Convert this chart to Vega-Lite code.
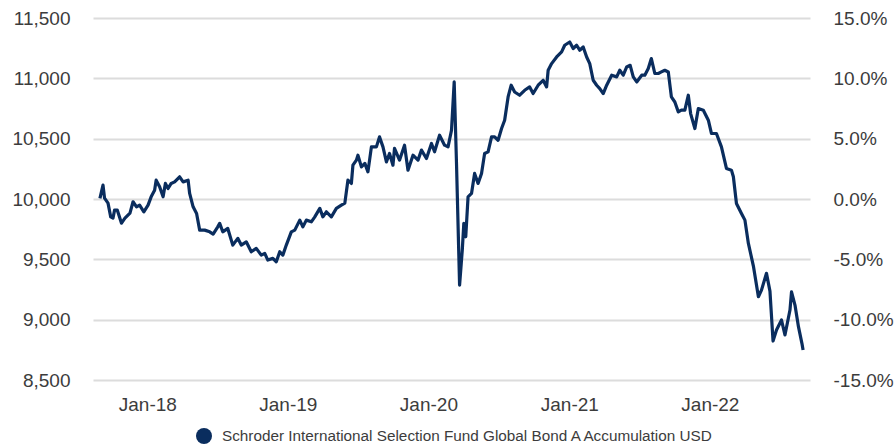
{
  "$schema": "https://vega.github.io/schema/vega-lite/v6.json",
  "width": 717,
  "height": 362,
  "autosize": {"type": "none"},
  "padding": {"left": 93, "top": 18, "right": 85, "bottom": 65},
  "background": "white",
  "config": {
    "view": {"stroke": null},
    "font": "Liberation Sans",
    "axis": {"labelFont": "Liberation Sans", "labelFontSize": 19, "labelColor": "#3c3c3c", "domain": false, "ticks": false, "tickSize": 0, "title": null}
  },
  "data": {"values": [
    {"date":"2017-08-31","value":10005},{"date":"2017-09-08","value":10115},{"date":"2017-09-12","value":10007},{"date":"2017-09-21","value":9966},{"date":"2017-09-28","value":9852},{"date":"2017-10-04","value":9842},{"date":"2017-10-08","value":9908},{"date":"2017-10-15","value":9908},{"date":"2017-10-26","value":9800},{"date":"2017-11-04","value":9842},{"date":"2017-11-17","value":9883},{"date":"2017-11-25","value":9977},{"date":"2017-12-04","value":9935},{"date":"2017-12-12","value":9949},{"date":"2017-12-23","value":9894},
    {"date":"2018-01-03","value":9949},{"date":"2018-01-11","value":10018},{"date":"2018-01-20","value":10073},{"date":"2018-01-24","value":10156},{"date":"2018-02-02","value":10101},{"date":"2018-02-11","value":10018},{"date":"2018-02-17","value":10129},{"date":"2018-02-24","value":10087},{"date":"2018-03-04","value":10129},{"date":"2018-03-13","value":10142},{"date":"2018-03-26","value":10184},{"date":"2018-04-04","value":10142},{"date":"2018-04-17","value":10156},{"date":"2018-04-21","value":10046},{"date":"2018-04-30","value":9935},{"date":"2018-05-09","value":9880},{"date":"2018-05-17","value":9742},{"date":"2018-05-30","value":9742},{"date":"2018-06-12","value":9728},{"date":"2018-06-21","value":9709},{"date":"2018-07-03","value":9769},{"date":"2018-07-08","value":9798},{"date":"2018-07-16","value":9728},{"date":"2018-07-29","value":9756},{"date":"2018-08-11","value":9618},{"date":"2018-08-24","value":9674},{"date":"2018-09-02","value":9618},{"date":"2018-09-15","value":9645},{"date":"2018-09-28","value":9563},{"date":"2018-10-11","value":9591},{"date":"2018-10-24","value":9535},{"date":"2018-11-02","value":9549},{"date":"2018-11-10","value":9494},{"date":"2018-11-23","value":9508},{"date":"2018-12-02","value":9480},{"date":"2018-12-11","value":9563},{"date":"2018-12-19","value":9535},{"date":"2018-12-28","value":9618},
    {"date":"2019-01-10","value":9728},{"date":"2019-01-19","value":9742},{"date":"2019-02-01","value":9825},{"date":"2019-02-09","value":9769},{"date":"2019-02-18","value":9825},{"date":"2019-03-03","value":9811},{"date":"2019-03-12","value":9852},{"date":"2019-03-25","value":9922},{"date":"2019-04-02","value":9852},{"date":"2019-04-11","value":9894},{"date":"2019-04-24","value":9852},{"date":"2019-05-07","value":9922},{"date":"2019-05-20","value":9949},{"date":"2019-05-29","value":9966},{"date":"2019-06-06","value":10156},{"date":"2019-06-15","value":10129},{"date":"2019-06-19","value":10280},{"date":"2019-06-28","value":10322},{"date":"2019-07-02","value":10363},{"date":"2019-07-11","value":10266},{"date":"2019-07-20","value":10295},{"date":"2019-07-28","value":10225},{"date":"2019-08-06","value":10432},{"date":"2019-08-19","value":10432},{"date":"2019-08-27","value":10515},{"date":"2019-09-05","value":10432},{"date":"2019-09-14","value":10308},{"date":"2019-09-22","value":10377},{"date":"2019-10-01","value":10280},{"date":"2019-10-05","value":10419},{"date":"2019-10-18","value":10322},{"date":"2019-10-31","value":10446},{"date":"2019-11-09","value":10239},{"date":"2019-11-22","value":10363},{"date":"2019-12-05","value":10322},{"date":"2019-12-14","value":10405},{"date":"2019-12-27","value":10336},
    {"date":"2020-01-09","value":10460},{"date":"2020-01-17","value":10391},{"date":"2020-01-30","value":10529},{"date":"2020-02-12","value":10446},{"date":"2020-02-21","value":10432},{"date":"2020-03-01","value":10570},{"date":"2020-03-08","value":10970},{"date":"2020-03-14","value":10294},{"date":"2020-03-22","value":9287},{"date":"2020-03-29","value":9577},{"date":"2020-04-02","value":9798},{"date":"2020-04-07","value":9687},{"date":"2020-04-13","value":10018},{"date":"2020-04-22","value":10046},{"date":"2020-04-30","value":10212},{"date":"2020-05-09","value":10129},{"date":"2020-05-18","value":10212},{"date":"2020-05-26","value":10377},{"date":"2020-06-04","value":10391},{"date":"2020-06-13","value":10515},{"date":"2020-06-21","value":10515},{"date":"2020-06-30","value":10487},{"date":"2020-07-09","value":10584},{"date":"2020-07-17","value":10653},{"date":"2020-07-26","value":10846},{"date":"2020-08-03","value":10943},{"date":"2020-08-12","value":10887},{"date":"2020-08-25","value":10860},{"date":"2020-09-07","value":10901},{"date":"2020-09-20","value":10929},{"date":"2020-09-29","value":10874},{"date":"2020-10-12","value":10943},{"date":"2020-10-25","value":10984},{"date":"2020-11-03","value":10929},{"date":"2020-11-07","value":11067},{"date":"2020-11-16","value":11122},{"date":"2020-11-29","value":11177},{"date":"2020-12-12","value":11219},{"date":"2020-12-20","value":11274},
    {"date":"2021-01-02","value":11301},{"date":"2021-01-11","value":11247},{"date":"2021-01-20","value":11274},{"date":"2021-01-28","value":11233},{"date":"2021-02-06","value":11260},{"date":"2021-02-15","value":11177},{"date":"2021-02-23","value":11122},{"date":"2021-03-04","value":10984},{"date":"2021-03-13","value":10943},{"date":"2021-03-21","value":10915},{"date":"2021-03-30","value":10874},{"date":"2021-04-08","value":10943},{"date":"2021-04-21","value":11026},{"date":"2021-05-04","value":11012},{"date":"2021-05-12","value":11067},{"date":"2021-05-21","value":11026},{"date":"2021-05-30","value":11094},{"date":"2021-06-08","value":11108},{"date":"2021-06-16","value":11012},{"date":"2021-06-25","value":10970},{"date":"2021-07-08","value":11026},{"date":"2021-07-16","value":11026},{"date":"2021-07-25","value":11081},{"date":"2021-08-02","value":11164},{"date":"2021-08-11","value":11040},{"date":"2021-08-20","value":11040},{"date":"2021-08-28","value":11053},{"date":"2021-09-06","value":11067},{"date":"2021-09-15","value":11053},{"date":"2021-09-23","value":10846},{"date":"2021-10-02","value":10804},{"date":"2021-10-11","value":10722},{"date":"2021-10-19","value":10736},{"date":"2021-10-28","value":10736},{"date":"2021-11-06","value":10860},{"date":"2021-11-12","value":10708},{"date":"2021-11-23","value":10584},{"date":"2021-12-02","value":10750},{"date":"2021-12-15","value":10736},{"date":"2021-12-28","value":10653},
    {"date":"2022-01-05","value":10543},{"date":"2022-01-18","value":10543},{"date":"2022-01-31","value":10432},{"date":"2022-02-13","value":10253},{"date":"2022-02-26","value":10239},{"date":"2022-03-03","value":10184},{"date":"2022-03-11","value":9963},{"date":"2022-03-24","value":9880},{"date":"2022-04-02","value":9825},{"date":"2022-04-11","value":9632},{"date":"2022-04-24","value":9444},{"date":"2022-05-07","value":9190},{"date":"2022-05-15","value":9245},{"date":"2022-05-28","value":9384},{"date":"2022-06-06","value":9237},{"date":"2022-06-14","value":8823},{"date":"2022-06-23","value":8914},{"date":"2022-07-06","value":8997},{"date":"2022-07-15","value":8873},{"date":"2022-07-28","value":9080},{"date":"2022-08-01","value":9231},{"date":"2022-08-10","value":9121},{"date":"2022-08-19","value":8942},{"date":"2022-08-28","value":8804},{"date":"2022-08-31","value":8749}
  ]},
  "encoding": {
    "x": {
      "field": "date", "type": "temporal",
      "scale": {"type": "utc", "domain": [{"year": 2017, "month": 8, "date": 13, "utc": true}, {"year": 2022, "month": 9, "date": 18, "utc": true}]},
      "axis": {
        "format": "%b-%y", "grid": false, "labelPadding": 15,
        "values": [{"year": 2018, "month": 1, "date": 1, "utc": true}, {"year": 2019, "month": 1, "date": 1, "utc": true}, {"year": 2020, "month": 1, "date": 1, "utc": true}, {"year": 2021, "month": 1, "date": 1, "utc": true}, {"year": 2022, "month": 1, "date": 1, "utc": true}]
      }
    }
  },
  "layer": [
    {
      "mark": {"type": "line", "strokeWidth": 3.2, "interpolate": "linear", "strokeJoin": "round"},
      "encoding": {
        "y": {
          "field": "value", "type": "quantitative",
          "scale": {"domain": [8500, 11500], "nice": false, "zero": false},
          "axis": {"orient": "left", "values": [8500, 9000, 9500, 10000, 10500, 11000, 11500], "format": ",.0f", "grid": true, "gridColor": "#dcdcdc", "gridWidth": 2, "labelPadding": 23}
        },
        "color": {
          "datum": "Schroder International Selection Fund Global Bond A Accumulation USD",
          "type": "nominal",
          "scale": {"range": ["#0a2d5e"]},
          "legend": {
            "title": null, "orient": "none", "legendX": 103, "legendY": 410, "padding": 0,
            "symbolType": "circle", "symbolSize": 256, "symbolFillColor": "#0a2d5e", "symbolStrokeWidth": 0,
            "labelFont": "Liberation Sans", "labelFontSize": 15.3, "labelColor": "#3c3c3c", "labelOffset": 10, "labelLimit": 700,
            "encode": {"symbols": {"update": {"fill": {"value": "#0a2d5e"}, "strokeWidth": {"value": 0}}}}
          }
        }
      }
    },
    {
      "mark": {"type": "line", "strokeOpacity": 0},
      "encoding": {
        "y": {
          "field": "value", "type": "quantitative",
          "scale": {"domain": [8500, 11500], "nice": false, "zero": false},
          "axis": {"orient": "right", "values": [8500, 9000, 9500, 10000, 10500, 11000, 11500], "grid": false, "labelPadding": 23,
            "labelExpr": "replace(format(datum.value / 10000 - 1, '.1%'), '\u2212', '-')"}
        }
      }
    }
  ],
  "resolve": {"scale": {"y": "independent"}}
}
